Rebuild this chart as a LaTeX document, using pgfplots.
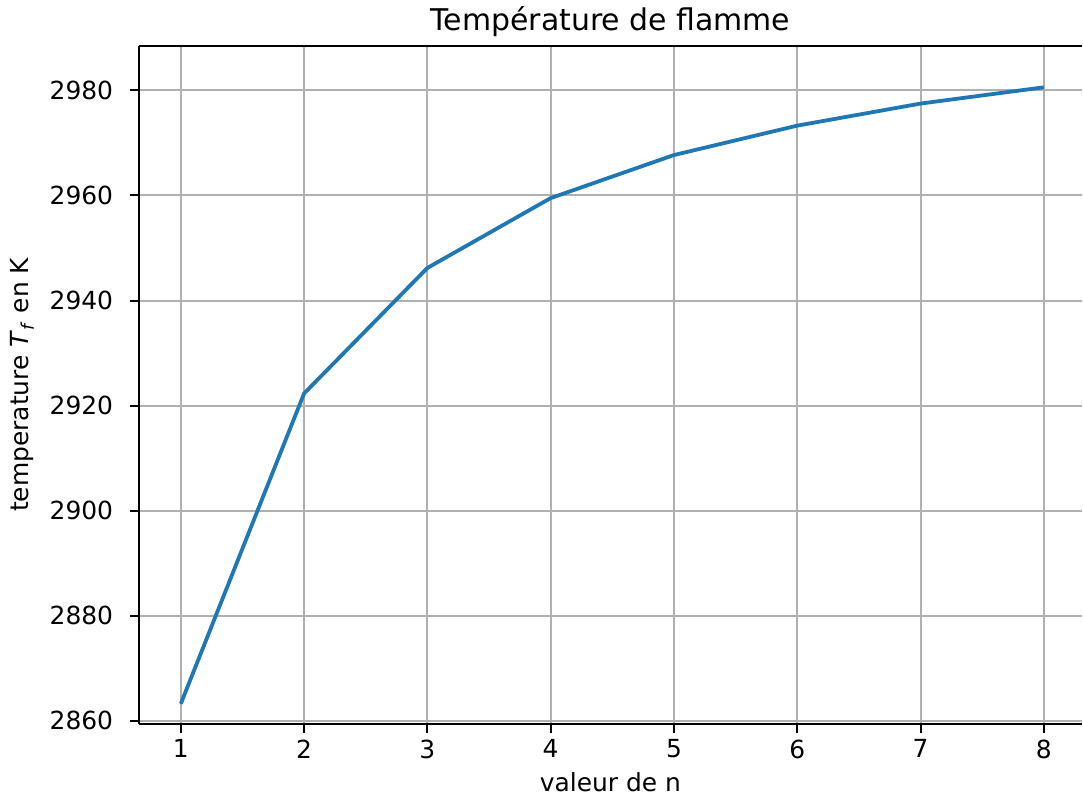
\documentclass[border=0pt]{standalone}
\usepackage{fontspec}
\setmainfont{DejaVu Sans}
\usepackage{pgfplots}
\pgfplotsset{compat=1.18}
\definecolor{mplblue}{HTML}{1F77B4}
\definecolor{mplgrid}{HTML}{B0B0B0}

\begin{document}
\begin{tikzpicture}[font=\fontsize{12.5}{15}\selectfont]
\begin{axis}[
    scale only axis,
    width=473pt, height=340pt,
    xmin=0.66, xmax=8.31,
    ymin=2859.4, ymax=2988.5,
    xtick={1,...,8},
    ytick={2860,2880,...,2980},
    grid=major,
    major grid style={mplgrid, line width=1pt},
    separate axis lines,
    axis x line*=box, axis y line*=left,
    tick align=outside, tick pos=left,
    major tick length=4.4pt,
    tick style={black, line width=1pt},
    axis line style={black, line width=1pt, -},
    /pgf/number format/assume math mode=true,
    /pgf/number format/1000 sep={},
    yticklabel style={xshift=-5pt},
    title={Température de flamme},
    title style={font=\fontsize{15}{18}\selectfont, yshift=-5pt},
    xlabel={valeur de n},
    ylabel={temperature \textit{T}\textsubscript{\textit{f}} en K},
    ylabel style={yshift=1pt},
]
\addplot[mplblue, line width=1.9pt] coordinates {
    (1, 2863.2)
    (2, 2922.3)
    (3, 2946.2)
    (4, 2959.5)
    (5, 2967.7)
    (6, 2973.3)
    (7, 2977.5)
    (8, 2980.6)
};
\end{axis}
\path (current bounding box.west) ++(-2pt,0) coordinate (padleft);
\end{tikzpicture}
\end{document}
